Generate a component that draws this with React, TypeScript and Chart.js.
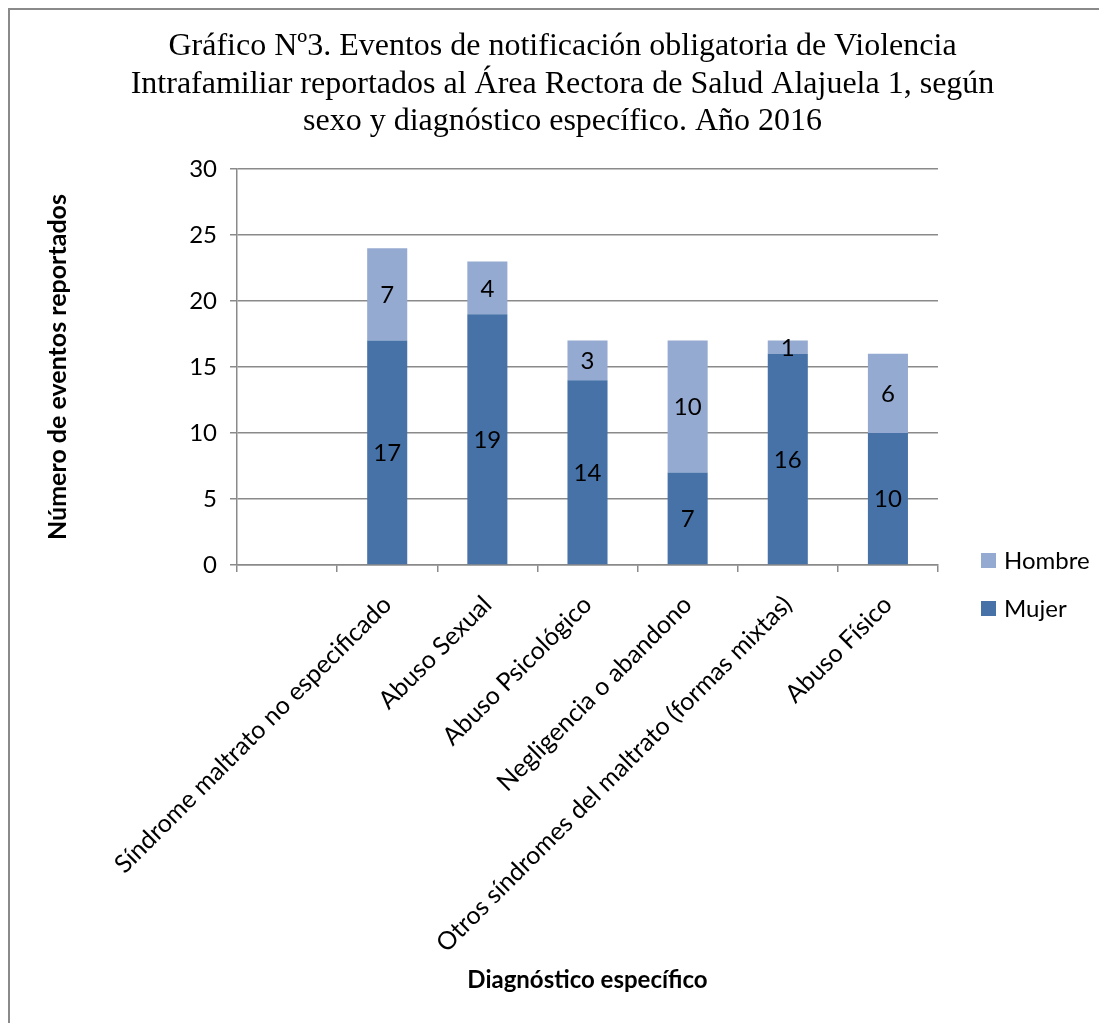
import React, { useEffect, useRef } from "react";
import { Chart, registerables } from "chart.js";

Chart.register(...registerables);

// ---- data ----
const titleLines = [
  "Gráfico Nº3. Eventos de notificación obligatoria de Violencia",
  "Intrafamiliar reportados al Área Rectora de Salud Alajuela 1, según",
  "sexo y diagnóstico específico. Año 2016",
];
const categories = [
  "",
  "Síndrome maltrato no especificado",
  "Abuso Sexual",
  "Abuso Psicológico",
  "Negligencia o abandono",
  "Otros síndromes del maltrato (formas mixtas)",
  "Abuso Físico",
];
const mujer: (number | null)[] = [null, 17, 19, 14, 7, 16, 10];
const hombre: (number | null)[] = [null, 7, 4, 3, 10, 1, 6];
const seriesNames = ["Mujer", "Hombre"];
const yMin = 0;
const yMax = 30;
const yStep = 5;
const yAxisTitle = "Número de eventos reportados";
const xAxisTitle = "Diagnóstico específico";

// ---- styles ----
const MUJER_COLOR = "#4672A8";
const HOMBRE_COLOR = "#95AAD0";
const GRID = "#8a8a8a";
const SANS = "Lato";
const SERIF = "'Liberation Serif'";
const FS = 24;

const titlePlugin = {
  id: "centeredTitle",
  afterDraw(chart: any) {
    const { ctx } = chart;
    ctx.save();
    ctx.font = `32px ${SERIF}`;
    ctx.fillStyle = "#000";
    ctx.textAlign = "center";
    ctx.textBaseline = "alphabetic";
    titleLines.forEach((line, i) => {
      ctx.fillText(line, 552.5, 45 + i * 37.7);
    });
    ctx.restore();
  },
};

const dataLabelPlugin = {
  id: "segLabels",
  afterDatasetsDraw(chart: any) {
    const { ctx } = chart;
    ctx.save();
    ctx.font = `${FS}px ${SANS}`;
    ctx.fillStyle = "#000";
    ctx.textAlign = "center";
    ctx.textBaseline = "middle";
    chart.data.datasets.forEach((ds: any, di: number) => {
      const meta = chart.getDatasetMeta(di);
      meta.data.forEach((el: any, i: number) => {
        const v = ds.data[i];
        if (v == null || v === 0) return;
        const { x, y, base } = el.getProps(["x", "y", "base"], true);
        ctx.fillText(String(v), x, (y + base) / 2 + 1);
      });
    });
    ctx.restore();
  },
};

const sideLegendPlugin = {
  id: "sideLegend",
  afterDraw(chart: any) {
    const { ctx, chartArea } = chart;
    const order = [1, 0];
    ctx.save();
    ctx.font = `${FS}px ${SANS}`;
    ctx.textBaseline = "middle";
    ctx.textAlign = "left";
    order.forEach((di, i) => {
      const ds = chart.data.datasets[di];
      const x = chartArea.right + 43;
      const y = chartArea.bottom - 4.5 + i * 48;
      ctx.fillStyle = ds.backgroundColor;
      ctx.fillRect(x, y - 7.5, 15, 15);
      ctx.fillStyle = "#000";
      ctx.fillText(ds.label, x + 23, y + 1);
    });
    ctx.restore();
  },
};

export default function App() {
  const ref = useRef<HTMLCanvasElement | null>(null);

  useEffect(() => {
    let chart: Chart | null = null;
    let cancelled = false;
    const make = () => {
      if (cancelled || !ref.current) return;
      chart = new Chart(ref.current, {
        type: "bar",
        data: {
          labels: categories,
          datasets: [
            {
              label: seriesNames[0],
              data: mujer,
              backgroundColor: MUJER_COLOR,
              borderWidth: 0,
              barPercentage: 0.4,
              categoryPercentage: 1,
            },
            {
              label: seriesNames[1],
              data: hombre,
              backgroundColor: HOMBRE_COLOR,
              borderWidth: 0,
              barPercentage: 0.4,
              categoryPercentage: 1,
            },
          ],
        },
        options: {
          animation: false,
          responsive: true,
          maintainAspectRatio: false,
          layout: { padding: { left: 20, right: 169, top: 159, bottom: 0 } },
          plugins: {
            legend: { display: false },
            tooltip: { enabled: false },
            title: { display: false },
          },
          scales: {
            x: {
              stacked: true,
              offset: true,
              grid: {
                offset: true,
                drawOnChartArea: false,
                drawTicks: true,
                tickLength: 7,
                color: GRID,
                lineWidth: 1.5,
              },
              border: { color: GRID, width: 1.5 },
              ticks: {
                color: "#000",
                font: { family: SANS, size: 25 },
                minRotation: 45,
                maxRotation: 45,
                autoSkip: false,
                padding: 18,
              },
              title: {
                display: true,
                text: xAxisTitle,
                color: "#000",
                font: { family: SANS, size: FS, weight: "bold" },
                padding: { top: 0, bottom: 28 },
              },
              afterFit(scale: any) {
                scale.height = 458;
              },
            },
            y: {
              stacked: true,
              min: yMin,
              max: yMax,
              grid: {
                color: GRID,
                lineWidth: 1.5,
                drawTicks: true,
                tickLength: 7,
              },
              border: { color: GRID, width: 1.5 },
              ticks: {
                stepSize: yStep,
                color: "#000",
                font: { family: SANS, size: FS },
                padding: 13,
              },
              title: {
                display: true,
                text: yAxisTitle,
                color: "#000",
                font: { family: SANS, size: 25, weight: "bold" },
                padding: { top: 13, bottom: 0 },
              },
              afterFit(scale: any) {
                scale.width = 207;
              },
            },
          },
        },
        plugins: [titlePlugin, dataLabelPlugin, sideLegendPlugin],
      } as any);
    };
    const fontsReady = (document as any).fonts
      ? Promise.all([
          (document as any).fonts.load(`${FS}px ${SANS}`),
          (document as any).fonts.load(`bold ${FS}px ${SANS}`),
          (document as any).fonts.load(`32px ${SERIF}`),
        ]).catch(() => null)
      : Promise.resolve(null);
    fontsReady.then(make);
    return () => {
      cancelled = true;
      if (chart) chart.destroy();
    };
  }, []);

  return (
    <>
      <style>{"html,body{overflow:hidden}"}</style>
      <div
        style={{
          width: 1099,
          height: 1015,
          boxSizing: "border-box",
          borderLeft: `2px solid ${GRID}`,
          borderTop: `2px solid ${GRID}`,
          background: "#fff",
        }}
      >
        <div style={{ position: "relative", width: 1097, height: 1013 }}>
          <canvas ref={ref} />
        </div>
      </div>
    </>
  );
}
